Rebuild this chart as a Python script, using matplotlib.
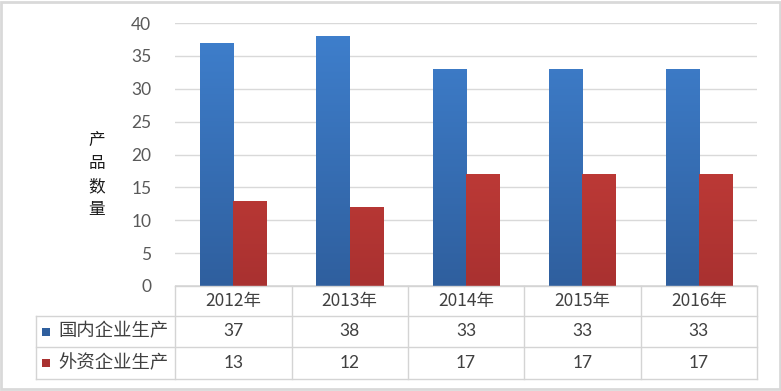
import matplotlib
matplotlib.use("Agg")
import matplotlib.pyplot as plt
import numpy as np
from matplotlib.colors import LinearSegmentedColormap
from matplotlib.patches import Rectangle
from matplotlib.lines import Line2D

plt.rcParams['font.family'] = ['Noto Sans CJK SC', 'DejaVu Sans']

years = ["2012年", "2013年", "2014年", "2015年", "2016年"]
series_names = ["国内企业生产", "外资企业生产"]
domestic = [37, 38, 33, 33, 33]
foreign = [13, 12, 17, 17, 17]
yticks = [0, 5, 10, 15, 20, 25, 30, 35, 40]

W, H = 781, 391
fig = plt.figure(figsize=(W / 100, H / 100), dpi=100)
fig.patch.set_facecolor("white")

def fx(px):
    return px / W

def fy(py):
    return 1 - py / H

x0, x1 = 175, 757
y_top, y_zero = 23, 286
ax = fig.add_axes([fx(x0), fy(y_zero), fx(x1) - fx(x0), fy(y_top) - fy(y_zero)])
ax.set_xlim(0, len(years))
ax.set_ylim(0, 40)
for s in ax.spines.values():
    s.set_visible(False)
ax.set_yticks(yticks)
ax.yaxis.grid(True, color="#D9D9D9", linewidth=1)
ax.set_axisbelow(True)
ax.tick_params(axis='y', length=0, pad=17, labelsize=12.5, labelcolor="#595959")
ax.set_xticks([])
for lab in ax.get_yticklabels():
    lab.set_fontfamily(['Lato', 'DejaVu Sans'])

ax.axhline(0, color="#D9D9D9", lw=1.2)

xs = np.arange(len(years)) + 0.5
bw = 0.285
colors = [("#3F80CE", "#2F5F9E"), ("#D5443E", "#A93130")]
for vals, off, (ctop, cbot) in zip([domestic, foreign], [-bw / 2, bw / 2], colors):
    cmap = LinearSegmentedColormap.from_list("g", [cbot, ctop])
    bars = ax.bar(xs + off, vals, width=bw, color=cbot, linewidth=0)
    for b in bars:
        bx = b.get_x()
        bwid = b.get_width()
        grad = np.linspace(0, 1, 256).reshape(-1, 1)
        im = ax.imshow(grad, cmap=cmap, origin='lower', aspect='auto',
                       extent=[bx, bx + bwid, 0, 40], zorder=3)
        im.set_clip_path(b)
ax.set_xlim(0, len(years))
ax.set_ylim(0, 40)

# y label
fig.text(fx(97), fy(175), "产\n品\n数\n量", ha='center', va='center', fontsize=12,
         color="#1A1A1A", linespacing=1.45)

# table
gc = "#D4D4D4"
col_x = [175, 291.5, 408, 524, 640.5, 757]
row_y = [286, 316, 347, 379]
left_x = 36

def hline(y, xa, xb):
    fig.add_artist(Line2D([fx(xa), fx(xb)], [fy(y), fy(y)], color=gc, lw=1, transform=fig.transFigure))

def vline(x, ya, yb):
    fig.add_artist(Line2D([fx(x), fx(x)], [fy(ya), fy(yb)], color=gc, lw=1, transform=fig.transFigure))

hline(row_y[0], col_x[0], col_x[-1])
for y in row_y[1:]:
    hline(y, left_x, col_x[-1])
for x in col_x:
    vline(x, row_y[0], row_y[-1])
vline(left_x, row_y[1], row_y[-1])

tc = "#404040"
for i, yr in enumerate(years):
    cx = (col_x[i] + col_x[i + 1]) / 2
    fig.text(fx(cx), fy((row_y[0] + row_y[1]) / 2), yr, ha='center', va='center',
             fontsize=12.5, color=tc)
    for r, vals in enumerate([domestic, foreign]):
        fig.text(fx(cx), fy((row_y[r + 1] + row_y[r + 2]) / 2), str(vals[i]),
                 ha='center', va='center', fontsize=12.5, color=tc,
                 fontfamily=['Lato', 'DejaVu Sans'])

for r, name in enumerate(series_names):
    cy = (row_y[r + 1] + row_y[r + 2]) / 2
    fig.add_artist(Rectangle((fx(42), fy(cy + 4)), fx(8), 8 / H, transform=fig.transFigure,
                             facecolor=colors[r][1], edgecolor='none'))
    fig.text(fx(58), fy(cy), name, ha='left', va='center', fontsize=13.2, color=tc)

# outer frame
fig.add_artist(Rectangle((fx(1), fy(389)), fx(779), 387 / H, transform=fig.transFigure,
                         facecolor='none', edgecolor="#D9D9D9", lw=2))

fig.savefig("out.png", dpi=100)
